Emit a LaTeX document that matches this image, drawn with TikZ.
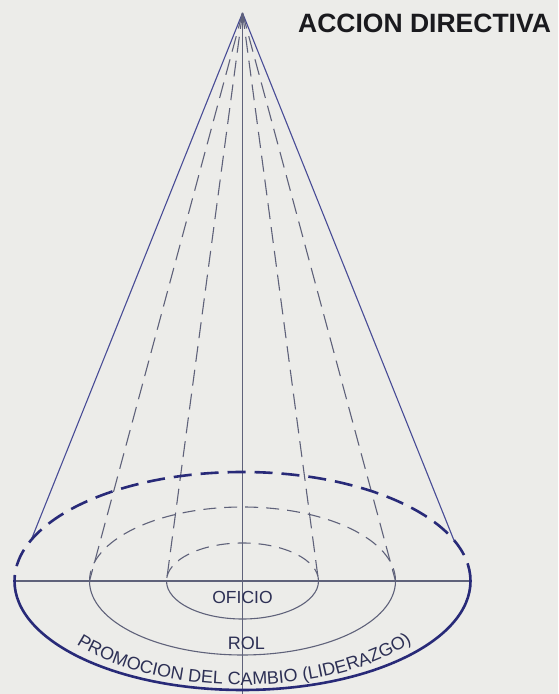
\documentclass[tikz,border=0pt]{standalone}
\usepackage{fontspec}
\setmainfont{Liberation Sans}
\usetikzlibrary{decorations.text}
\definecolor{bgc}{RGB}{236,236,233}
\definecolor{navyc}{RGB}{40,42,120}
\definecolor{thinc}{RGB}{95,98,122}
\definecolor{conec}{RGB}{72,76,150}
\definecolor{lblc}{RGB}{45,48,85}
\begin{document}
\begin{tikzpicture}[x=1pt,y=1pt,
  thinline/.style={draw=thinc, line width=1.1pt},
  thindash/.style={draw=thinc, line width=1.1pt, dash pattern=on 13pt off 8pt},
  conedash/.style={draw=thinc, line width=1.1pt, dash pattern=on 16pt off 8pt},
  coneline/.style={draw=conec, line width=1.1pt},
  outerline/.style={draw=navyc, line width=2.6pt},
  outerdash/.style={draw=navyc, line width=2.6pt, dash pattern=on 18pt off 9pt},
  lbl/.style={text=lblc, font=\fontsize{18}{20}\selectfont, inner sep=0pt}]
\fill[bgc] (0,0) rectangle (558,694);
\useasboundingbox (0,0) rectangle (558,694);
% key points
\coordinate (C) at (242.5,113);
\coordinate (A) at (242.5,681);
\coordinate (Bot) at (242.5,0);
\coordinate (OL) at (14.5,113);
\coordinate (OR) at (470.5,113);
\coordinate (ML) at (89.5,113);
\coordinate (MR) at (395.5,113);
\coordinate (IL) at (166.5,113);
\coordinate (IR) at (318.5,113);
\coordinate (TL) at ([shift={(158:228pt and 109pt)}]C);
\coordinate (TR) at ([shift={(22:228pt and 109pt)}]C);
% axes
\draw[thinline] (A) -- (Bot);
\draw[thinline] (OL) -- (OR);
% cone lines
\draw[coneline] (A) -- (TL);
\draw[coneline] (A) -- (TR);
\draw[conedash] (A) -- (ML);
\draw[conedash] (A) -- (MR);
\draw[conedash] (A) -- (IL);
\draw[conedash] (A) -- (IR);
% inner ellipse
\draw[thindash] (IR) arc[start angle=0,end angle=180,x radius=76pt,y radius=38pt];
\draw[thinline] (IL) arc[start angle=180,end angle=360,x radius=76pt,y radius=38pt];
% middle ellipse
\draw[thindash] (MR) arc[start angle=0,end angle=180,x radius=153pt,y radius=74pt];
\draw[thinline] (ML) arc[start angle=180,end angle=360,x radius=153pt,y radius=74pt];
% outer ellipse
\draw[outerdash] (OR) arc[start angle=0,end angle=180,x radius=228pt,y radius=109pt];
\draw[outerline] (OL) arc[start angle=180,end angle=360,x radius=228pt,y radius=109pt];
% labels
\node[anchor=base west, inner sep=0pt, text={rgb,255:red,26;green,26;blue,30}, font=\fontsize{26.5}{30}\selectfont\bfseries] (title) at (298,661) {ACCION DIRECTIVA};
\node[lbl, anchor=base, font=\fontsize{17.5}{20}\selectfont] (oficio) at (242.5,90) {OFICIO};
\node[lbl, anchor=base] (rol) at (246.5,45) {ROL};
\path[decorate, decoration={text along path, text align=center,
  text={|\fontsize{18}{20}\selectfont\color{lblc}|PROMOCION DEL CAMBIO (LIDERAZGO)}}]
  ([shift={(218:210pt and 104pt)}]C) arc[start angle=218,end angle=323.5,x radius=210pt,y radius=104pt];
\end{tikzpicture}
\end{document}
